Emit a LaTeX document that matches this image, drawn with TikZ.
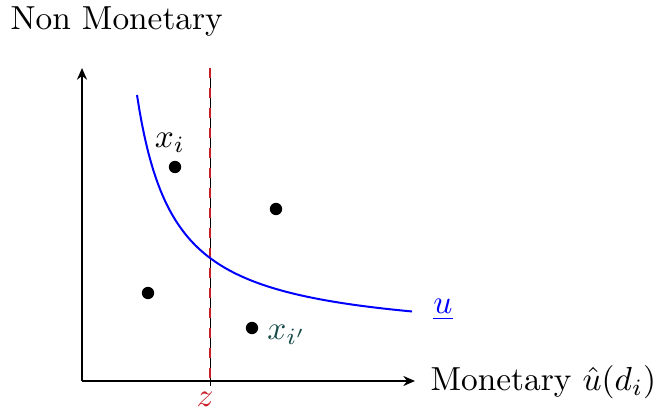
\documentclass[tikz,border=0pt]{standalone}
\usetikzlibrary{arrows.meta}
\definecolor{tealdark}{RGB}{25,75,75}
\definecolor{zred}{RGB}{200,30,40}
\begin{document}
\begin{tikzpicture}[x=0.3pt,y=-0.3pt,
  axis/.style={line width=0.65pt,-{Stealth[length=3.5pt,width=3pt]}},
  dotpt/.style={circle,fill=black,inner sep=0pt,minimum size=3.7pt},
  lbl/.style={inner sep=0pt}]
\useasboundingbox (0,0) rectangle (653,410);
\coordinate (O) at (82,381);
\coordinate (Ytop) at (82,68);
\coordinate (Xend) at (415,381);
\coordinate (Zt) at (210,68);
\coordinate (Zb) at (210,386);
\draw[axis] (O) -- (Ytop);
\draw[axis] (O) -- (Xend);
\node[lbl,anchor=west] (ylab) at (10,22) {Non Monetary};
\node[lbl,anchor=west] (xlab) at (430,382) {Monetary $\hat{u}(d_i)$};
\draw[black,line width=0.3pt] (Zt) -- (Zb);
\draw[zred,dashed,line width=0.6pt] (Zt) -- (Zb);
\node[lbl,text=zred] (zlab) at (205,399) {$z$};
\draw[blue,line width=0.6pt,domain=137:412,samples=120] plot (\x,{340.6-9088/(\x-100)});
\node[lbl,text=blue] (ulab) at (443,310) {\underline{$u$}};
\node[dotpt] (p1) at (175,167) {};
\node[dotpt] (p2) at (276,209) {};
\node[dotpt] (p3) at (148,293) {};
\node[dotpt] (p4) at (252,328) {};
\node[lbl] (l1) at (170,143) {$x_i$};
\node[lbl,text=tealdark] (l4) at (287,335) {$x_{i'}$};
\end{tikzpicture}
\end{document}
